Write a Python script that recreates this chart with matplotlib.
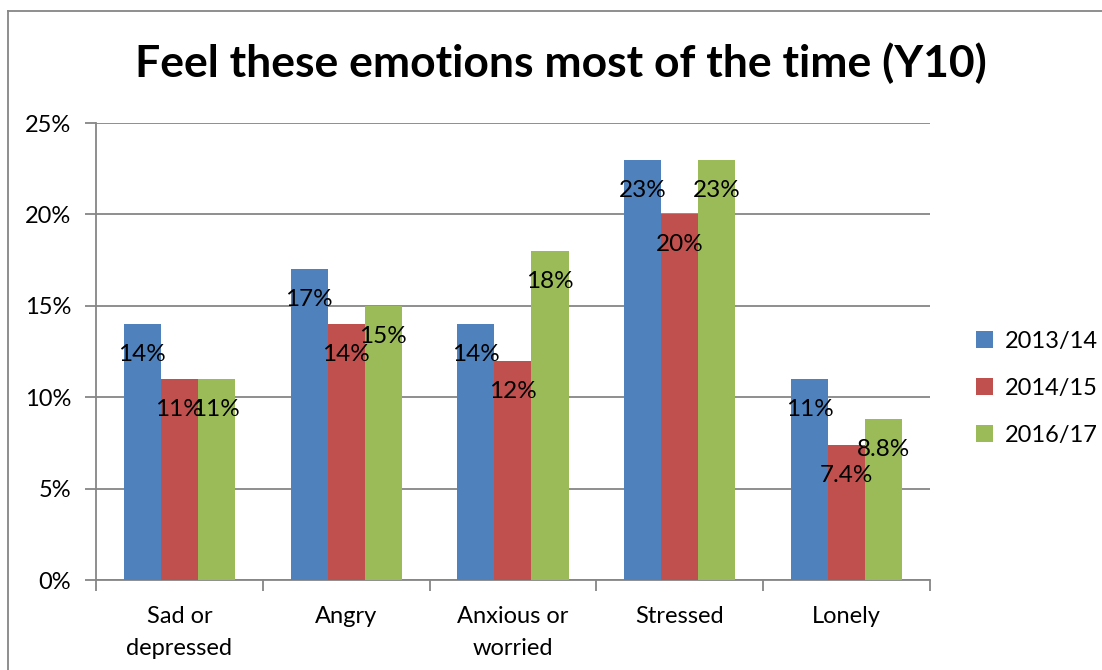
import numpy as np
import matplotlib
matplotlib.use("Agg")
import matplotlib.pyplot as plt
from matplotlib.lines import Line2D

categories = ["Sad or\ndepressed", "Angry", "Anxious or\nworried", "Stressed", "Lonely"]
series_names = ["2013/14", "2014/15", "2016/17"]
y2013 = [14, 17, 14, 23, 11]
y2014 = [11, 14, 12, 20, 7.4]
y2016 = [11, 15, 18, 23, 8.8]
colors = ["#4f81bd", "#c0504d", "#9bbb59"]

plt.rcParams['font.family'] = ['Lato', 'DejaVu Sans']

fig = plt.figure(figsize=(11.02, 6.7), dpi=100)
ax = fig.add_axes([0.0871, 0.1343, 0.8439 - 0.0871, 0.8164 - 0.1343])

x = np.arange(len(categories))
w = 0.222
for i, (vals, name) in enumerate(zip([y2013, y2014, y2016], series_names)):
    bars = ax.bar(x + (i - 1) * w, vals, w, color=colors[i], label=name, zorder=3)
    for b, v in zip(bars, vals):
        lab = f"{v:g}%"
        ax.annotate(lab, (b.get_x() + b.get_width() / 2, v), xytext=(0, -22),
                    textcoords="offset points", ha="center", va="center",
                    fontsize=17.5, zorder=4)

ax.set_xlim(-0.5, len(categories) - 0.5)
ax.set_ylim(0, 25)
ax.set_yticks(np.arange(0, 26, 5))
ax.set_yticklabels([f"{t}%" for t in range(0, 26, 5)], fontsize=17)
ax.yaxis.grid(True, color="#868686", linewidth=1.3, zorder=0)
ax.set_xticks(x)
ax.set_xticklabels(categories, fontsize=17, linespacing=1.65)
ax.set_xticks(np.arange(-0.5, len(categories)), minor=True)
ax.tick_params(axis="x", which="major", length=0, pad=19)
ax.tick_params(axis="x", which="minor", length=8, color="#868686", width=1.3)
ax.tick_params(axis="y", length=8, color="#868686", width=1.3, pad=10)

for s in ["top", "right"]:
    ax.spines[s].set_visible(False)
for s in ["left", "bottom"]:
    ax.spines[s].set_color("#868686")
    ax.spines[s].set_linewidth(1.3)

fig.text(0.509, 0.905, "Feel these emotions most of the time (Y10)",
         ha="center", va="center", fontsize=32, fontweight="bold")

ax.legend(loc="center left", bbox_to_anchor=(1.03, 0.42), frameon=False,
          fontsize=17, handlelength=0.7, handleheight=0.7, labelspacing=1.1,
          handletextpad=0.5)

fig.add_artist(Line2D([8 / 1102, 8 / 1102], [0, 1 - 11 / 670], color="#868686", lw=1.3))
fig.add_artist(Line2D([8 / 1102, 1], [1 - 11 / 670, 1 - 11 / 670], color="#868686", lw=1.3))

fig.savefig("out.png", dpi=100)
